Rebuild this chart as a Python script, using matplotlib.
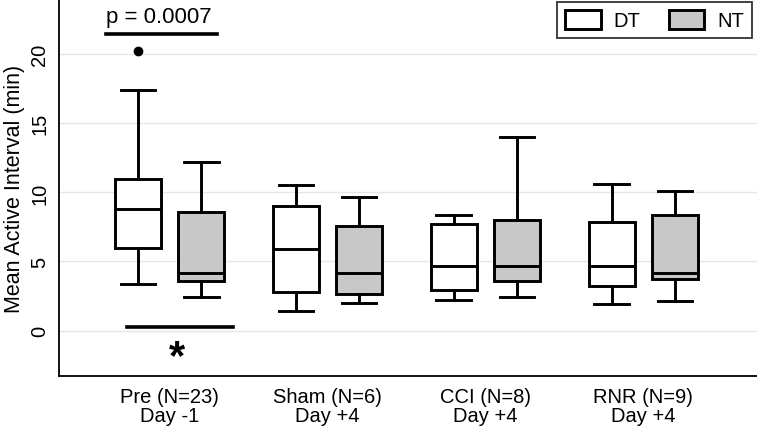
import matplotlib.pyplot as plt

plt.rcParams['font.family'] = ['Liberation Sans', 'DejaVu Sans']

groups = ['Pre (N=23)\nDay -1', 'Sham (N=6)\nDay +4', 'CCI (N=8)\nDay +4', 'RNR (N=9)\nDay +4']

# whisker low, Q1, median, Q3, whisker high
dt_low = [3.4, 1.45, 2.2, 1.9]
dt_q1 = [6.0, 2.8, 2.95, 3.25]
dt_med = [8.8, 5.9, 4.65, 4.65]
dt_q3 = [11.0, 9.0, 7.7, 7.85]
dt_high = [17.4, 10.5, 8.4, 10.6]
dt_fliers = [[20.2], [], [], []]

nt_low = [2.45, 2.0, 2.45, 2.15]
nt_q1 = [3.6, 2.65, 3.6, 3.75]
nt_med = [4.2, 4.15, 4.65, 4.15]
nt_q3 = [8.6, 7.6, 8.0, 8.35]
nt_high = [12.2, 9.7, 14.0, 10.1]
nt_fliers = [[], [], [], []]

nt_color = '#c8c8c8'


def make_stats(low, q1, med, q3, high, fliers):
    stats = []
    for i in range(len(low)):
        stats.append(dict(whislo=low[i], q1=q1[i], med=med[i], q3=q3[i],
                          whishi=high[i], fliers=fliers[i]))
    return stats


fig, ax = plt.subplots(figsize=(7.57, 4.31), dpi=100)
fig.subplots_adjust(left=0.078, right=1.0, bottom=0.125, top=1.0)

pos = [1, 2, 3, 4]
lw = 2.1
common = dict(widths=0.29, capwidths=0.22, patch_artist=True,
              whiskerprops=dict(color='black', linewidth=lw),
              capprops=dict(color='black', linewidth=lw),
              medianprops=dict(color='black', linewidth=lw),
              flierprops=dict(marker='o', markerfacecolor='black', markeredgecolor='black', markersize=6))

b1 = ax.bxp(make_stats(dt_low, dt_q1, dt_med, dt_q3, dt_high, dt_fliers),
            positions=[p - 0.2 for p in pos],
            boxprops=dict(facecolor='white', edgecolor='black', linewidth=lw), **common)
b2 = ax.bxp(make_stats(nt_low, nt_q1, nt_med, nt_q3, nt_high, nt_fliers),
            positions=[p + 0.2 for p in pos],
            boxprops=dict(facecolor=nt_color, edgecolor='black', linewidth=lw), **common)

ax.set_xlim(0.3, 4.72)
ax.set_ylim(-3.3, 24)
ax.set_xticks(pos)
ax.set_xticklabels(groups, fontsize=14.5, linespacing=1.0)
ax.set_yticks([0, 5, 10, 15, 20])
ax.set_yticklabels(['0', '5', '10', '15', '20'], fontsize=14.5, rotation=90, va='center')
ax.tick_params(axis='x', length=0, pad=8)
ax.tick_params(axis='y', length=0, pad=7)
ax.set_ylabel('Mean Active Interval (min)', fontsize=15.5, labelpad=4)
ax.yaxis.grid(True, color='#e6e6e6', linewidth=1)
ax.set_axisbelow(True)
for s in ['top', 'right']:
    ax.spines[s].set_visible(False)
for s in ['left', 'bottom']:
    ax.spines[s].set_linewidth(1.3)

# significance marks
ax.plot([0.6, 1.3], [21.5, 21.5], color='black', linewidth=2.6)
ax.text(0.93, 22.0, 'p = 0.0007', ha='center', va='bottom', fontsize=16)
ax.plot([0.73, 1.4], [0.28, 0.28], color='black', linewidth=2.6)
ax.text(1.05, -1.9, '*', ha='center', va='center', fontsize=30, fontweight='bold')

leg = ax.legend([b1['boxes'][0], b2['boxes'][0]], ['DT', 'NT'], loc='upper right',
                ncol=2, fontsize=14.5, frameon=True, fancybox=False, edgecolor='black',
                handlelength=1.75, handleheight=1.1, columnspacing=1.4, handletextpad=0.65,
                borderpad=0.4, bbox_to_anchor=(0.993, 0.993), borderaxespad=0)
leg.get_frame().set_linewidth(1.3)

fig.savefig('out.png', dpi=100)
